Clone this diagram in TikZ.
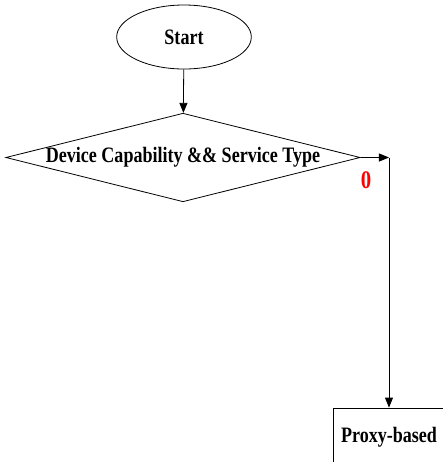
\documentclass[tikz,border=0pt]{standalone}
\usepackage{fontspec}
\setmainfont{Liberation Serif}[FakeStretch=0.82]
\usetikzlibrary{shapes.geometric,arrows.meta}
\begin{document}
\begin{tikzpicture}[
        x=0.75pt, y=-0.75pt,
        every node/.style={font=\fontsize{16.5}{19}\selectfont\bfseries},
        startnode/.style={ellipse, draw, line width=0.6pt, minimum width=101pt, minimum height=48pt, inner sep=0pt},
        decision/.style={diamond, draw, line width=0.6pt, aspect=4, minimum width=262.5pt, minimum height=64pt, inner sep=0pt},
        box/.style={rectangle, draw, line width=0.6pt, minimum width=84pt, minimum height=43.5pt},
        arrow/.style={-{Triangle[length=7.5pt,width=6pt]}, line width=0.6pt}
    ]
        \useasboundingbox (0,0) rectangle (443,462);
        \node[startnode] (start) at (184,37) {Start};
        \node[decision] (dec) at (183,157.5) {Device Capability \&\& Service Type};
        \coordinate (corner) at (389,157.5);
        \node[box] (proxy) at (389,437) {Proxy-based};
        \node[text=red, font=\fontsize{19}{22}\selectfont\bfseries] (zero) at (366,180) {0};
        
        \draw[arrow] (start) -- (dec);
        \draw[arrow] (dec.east) -- (corner);
        \draw[arrow] (corner) -- (proxy.north);
    \end{tikzpicture}
\end{document}
